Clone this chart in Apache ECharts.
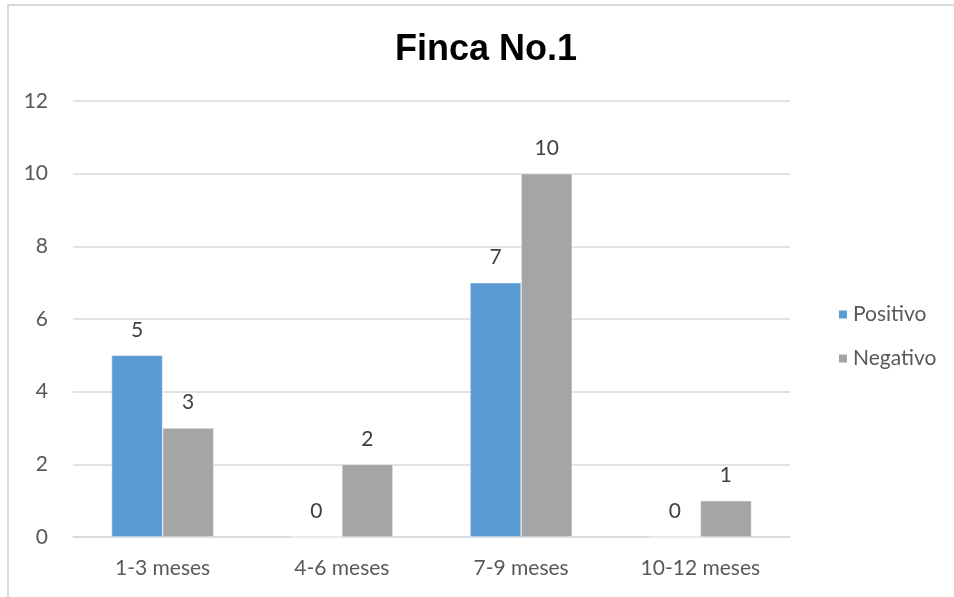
<!DOCTYPE html>
<html><head><meta charset="utf-8">
<script src="https://cdn.jsdelivr.net/npm/echarts@6/dist/echarts.min.js"></script>
<style>html,body{margin:0;padding:0;background:#fff}#c{width:954px;height:597px}</style>
</head><body><div id="c"></div>
<script>
const categories = ['1-3 meses', '4-6 meses', '7-9 meses', '10-12 meses'];
const positivo = [5, 0, 7, 0];
const negativo = [3, 2, 10, 1];
const yTicks = [0, 2, 4, 6, 8, 10, 12];

const chart = echarts.init(document.getElementById('c'));
const font = 'Lato, "Open Sans", sans-serif';
const labelCfg = { show: true, position: 'top', color: '#404040', fontSize: 21, fontFamily: font, distance: 15 };
chart.setOption({
  animation: false,
  graphic: [{ type: 'rect', shape: { x: 8, y: 5, width: 1000, height: 1000 }, style: { fill: 'none', stroke: '#d9d9d9', lineWidth: 2 }, silent: true }],
  title: { text: 'Finca No.1', left: 390, top: 27, textStyle: { fontFamily: 'Arial, "Liberation Sans", sans-serif', fontWeight: 'bold', fontSize: 36, color: '#000' } },
  legend: {
    orient: 'vertical', left: 832, top: 299, itemWidth: 10, itemHeight: 10, itemGap: 23,
    icon: 'rect',
    textStyle: { color: '#595959', fontSize: 21, fontFamily: font, padding: [0, 0, 0, 0] },
    data: ['Positivo', 'Negativo']
  },
  grid: { left: 73, right: 164, top: 101, bottom: 60, containLabel: false },
  xAxis: {
    type: 'category', data: categories,
    axisLine: { lineStyle: { color: '#d9d9d9', width: 1.5 } },
    axisTick: { show: false },
    axisLabel: { color: '#595959', fontSize: 21, fontFamily: font, margin: 21 }
  },
  yAxis: {
    type: 'value', min: yTicks[0], max: yTicks[yTicks.length - 1], interval: 2,
    axisLine: { show: false }, axisTick: { show: false },
    splitLine: { lineStyle: { color: '#d9d9d9', width: 1.5 } },
    axisLabel: { color: '#595959', fontSize: 21, fontFamily: font, margin: 25 }
  },
  series: [
    { name: 'Positivo', type: 'bar', data: positivo, barGap: '0%', barCategoryGap: '43%',
      itemStyle: { color: '#5B9BD5', borderColor: '#fff', borderWidth: 0.5 }, label: labelCfg },
    { name: 'Negativo', type: 'bar', data: negativo,
      itemStyle: { color: '#A5A5A5', borderColor: '#fff', borderWidth: 0.5 }, label: labelCfg }
  ]
});
</script></body></html>
